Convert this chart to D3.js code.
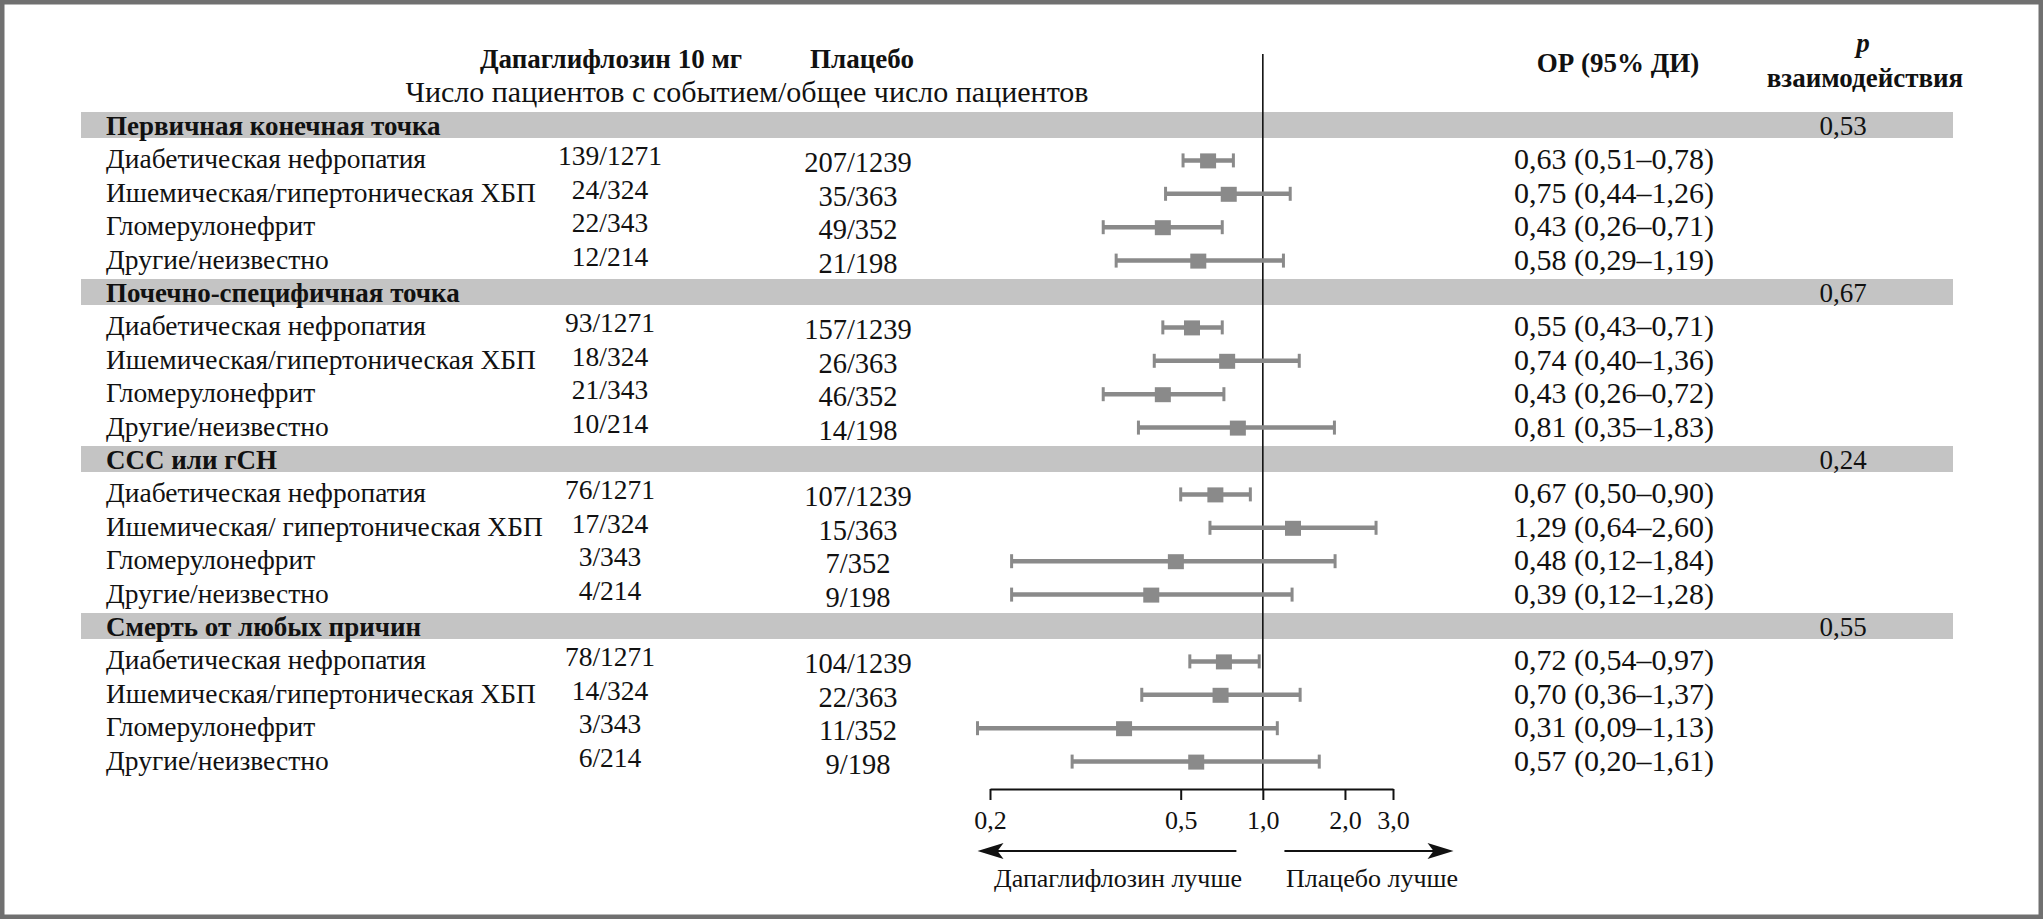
<!DOCTYPE html>
<html>
<head>
<meta charset="utf-8">
<script src="https://cdn.jsdelivr.net/npm/d3@7"></script>
<style>
body { margin: 0; background: #fff; }
svg { display: block; }
text { font-family: "Liberation Serif", "Times New Roman", serif; fill: #111; }
</style>
</head>
<body>
<svg id="chart"></svg>
<script>
// forest plot: dapagliflozin vs placebo by CKD cause

var width = 2043,
	height = 919;

var groups = [
	"Первичная конечная точка",
	"Почечно-специфичная точка",
	"ССС или гСН",
	"Смерть от любых причин"
];
var groupP = ["0,53", "0,67", "0,24", "0,55"];

// 4 rows for each group, same order as groups
var rowLabels = [
	"Диабетическая нефропатия", "Ишемическая/гипертоническая ХБП", "Гломерулонефрит", "Другие/неизвестно",
	"Диабетическая нефропатия", "Ишемическая/гипертоническая ХБП", "Гломерулонефрит", "Другие/неизвестно",
	"Диабетическая нефропатия", "Ишемическая/ гипертоническая ХБП", "Гломерулонефрит", "Другие/неизвестно",
	"Диабетическая нефропатия", "Ишемическая/гипертоническая ХБП", "Гломерулонефрит", "Другие/неизвестно"
];
var dapaEvents = [
	"139/1271", "24/324", "22/343", "12/214",
	"93/1271", "18/324", "21/343", "10/214",
	"76/1271", "17/324", "3/343", "4/214",
	"78/1271", "14/324", "3/343", "6/214"
];
var placeboEvents = [
	"207/1239", "35/363", "49/352", "21/198",
	"157/1239", "26/363", "46/352", "14/198",
	"107/1239", "15/363", "7/352", "9/198",
	"104/1239", "22/363", "11/352", "9/198"
];
var hr =     [0.63, 0.75, 0.43, 0.58, 0.55, 0.74, 0.43, 0.81, 0.67, 1.29, 0.48, 0.39, 0.72, 0.70, 0.31, 0.57];
var ciLow =  [0.51, 0.44, 0.26, 0.29, 0.43, 0.40, 0.26, 0.35, 0.50, 0.64, 0.12, 0.12, 0.54, 0.36, 0.09, 0.20];
var ciHigh = [0.78, 1.26, 0.71, 1.19, 0.71, 1.36, 0.72, 1.83, 0.90, 2.60, 1.84, 1.28, 0.97, 1.37, 1.13, 1.61];

var tickValues = [0.1, 0.5, 1, 2, 3];
var tickLabels = ["0,2", "0,5", "1,0", "2,0", "3,0"];

var svg = d3.select("#chart")
	.attr("width", width)
	.attr("height", height);

svg.append("rect")
	.attr("width", width)
	.attr("height", height)
	.attr("fill", "#fff")
	.attr("stroke", "#707070")
	.attr("stroke-width", 9);

// 20 slots: band + 4 rows per group
var y = d3.scaleLinear().domain([0, 19]).range([125, 759.6]);
var x = d3.scaleLog().domain([0.1, 3]).range([990, 1393]);

var fmt = function(v) { return d3.format(".2f")(v).replace(".", ","); };

var rows = rowLabels.map(function(d, i) {
	var g = Math.floor(i / 4);
	return {
		label: d, dapa: dapaEvents[i], plac: placeboEvents[i],
		hr: hr[i], lo: ciLow[i], hi: ciHigh[i],
		slot: g * 5 + (i % 4) + 1
	};
});

// grey group bands
var bands = svg.append("g").selectAll("g")
	.data(groups)
	.enter().append("g");

bands.append("rect")
	.attr("x", 81)
	.attr("width", 1953 - 81)
	.attr("y", function(d, i) { return y(i * 5) - 13; })
	.attr("height", 26)
	.attr("fill", "#c4c4c4");

bands.append("text")
	.attr("x", 106)
	.attr("y", function(d, i) { return y(i * 5) + 10; })
	.attr("font-size", 27)
	.attr("font-weight", "bold")
	.text(function(d) { return d; });

bands.append("text")
	.attr("x", 1843)
	.attr("y", function(d, i) { return y(i * 5) + 10; })
	.attr("font-size", 27)
	.attr("text-anchor", "middle")
	.text(function(d, i) { return groupP[i]; });

// column headers
var head = svg.append("g").attr("font-size", 27);
head.append("text").attr("x", 611).attr("y", 68).attr("text-anchor", "middle")
	.attr("font-weight", "bold").text("Дапаглифлозин 10 мг");
head.append("text").attr("x", 862).attr("y", 68).attr("text-anchor", "middle")
	.attr("font-weight", "bold").text("Плацебо");
head.append("text").attr("x", 747).attr("y", 102).attr("text-anchor", "middle")
	.attr("font-size", 30)
	.text("Число пациентов с событием/общее число пациентов");
head.append("text").attr("x", 1618).attr("y", 72).attr("text-anchor", "middle")
	.attr("font-weight", "bold").text("ОР (95% ДИ)");
head.append("text").attr("x", 1863).attr("y", 52).attr("text-anchor", "middle")
	.attr("font-weight", "bold").attr("font-style", "italic").text("p");
head.append("text").attr("x", 1865).attr("y", 87).attr("text-anchor", "middle")
	.attr("font-weight", "bold").text("взаимодействия");

// reference line at 1
svg.append("line")
	.attr("x1", x(1)).attr("x2", x(1))
	.attr("y1", 54).attr("y2", 789)
	.attr("stroke", "#111")
	.attr("stroke-width", 1.6);

var row = svg.append("g").selectAll("g")
	.data(rows)
	.enter().append("g")
	.attr("transform", function(d) { return "translate(0," + y(d.slot) + ")"; });

row.append("text").attr("x", 106).attr("y", 10).attr("font-size", 27.5)
	.text(function(d) { return d.label; });
row.append("text").attr("x", 610).attr("y", 7).attr("font-size", 27.5).attr("text-anchor", "middle")
	.text(function(d) { return d.dapa; });
row.append("text").attr("x", 858).attr("y", 14).attr("font-size", 28.5).attr("text-anchor", "middle")
	.text(function(d) { return d.plac; });
row.append("text").attr("x", 1514).attr("y", 11).attr("font-size", 30)
	.text(function(d) { return fmt(d.hr) + " (" + fmt(d.lo) + "–" + fmt(d.hi) + ")"; });

// CI whiskers, caps, squares
var grey = "#8a8a8a";
row.append("line")
	.attr("x1", function(d) { return x(d.lo); })
	.attr("x2", function(d) { return x(d.hi); })
	.attr("y1", 2).attr("y2", 2)
	.attr("stroke", grey).attr("stroke-width", 4.5);
row.selectAll(".cap")
	.data(function(d) { return [d.lo, d.hi]; })
	.enter().append("line")
	.attr("x1", function(v) { return x(v); })
	.attr("x2", function(v) { return x(v); })
	.attr("y1", -5).attr("y2", 9)
	.attr("stroke", grey).attr("stroke-width", 3);
row.append("rect")
	.attr("x", function(d) { return x(d.hr) - 8; })
	.attr("y", -5)
	.attr("width", 16).attr("height", 15)
	.attr("fill", grey);

// log axis
var axis = svg.append("g")
	.attr("transform", "translate(0,789)")
	.call(d3.axisBottom(x)
		.tickValues(tickValues)
		.tickFormat(function(d, i) { return tickLabels[i]; })
		.tickSize(11)
		.tickSizeOuter(0)
		.tickPadding(11));
axis.select(".domain").attr("stroke", "#111").attr("stroke-width", 2);
axis.selectAll(".tick line").attr("stroke", "#111").attr("stroke-width", 2);
axis.selectAll(".tick text")
	.attr("font-family", "Liberation Serif, serif")
	.attr("font-size", 26)
	.attr("fill", "#111");

// direction arrows
var arrows = [
	{ from: 0.8, to: 0.09, label: "Дапаглифлозин лучше", cx: 1118 },
	{ from: 1.2, to: 5, label: "Плацебо лучше", cx: 1372 }
];
arrows.forEach(function(a) {
	var x0 = x(a.from), x1 = x(a.to), dir = x1 > x0 ? 1 : -1;
	svg.append("line")
		.attr("x1", x0).attr("x2", x1 - dir * 18)
		.attr("y1", 851).attr("y2", 851)
		.attr("stroke", "#111").attr("stroke-width", 2);
	svg.append("path")
		.attr("d", "M" + x1 + ",851L" + (x1 - dir * 26) + ",843L" + (x1 - dir * 20) + ",851L" + (x1 - dir * 26) + ",859Z")
		.attr("fill", "#111");
	svg.append("text")
		.attr("x", a.cx).attr("y", 887)
		.attr("font-size", 26)
		.attr("text-anchor", "middle")
		.text(a.label);
});
</script>
</body>
</html>
